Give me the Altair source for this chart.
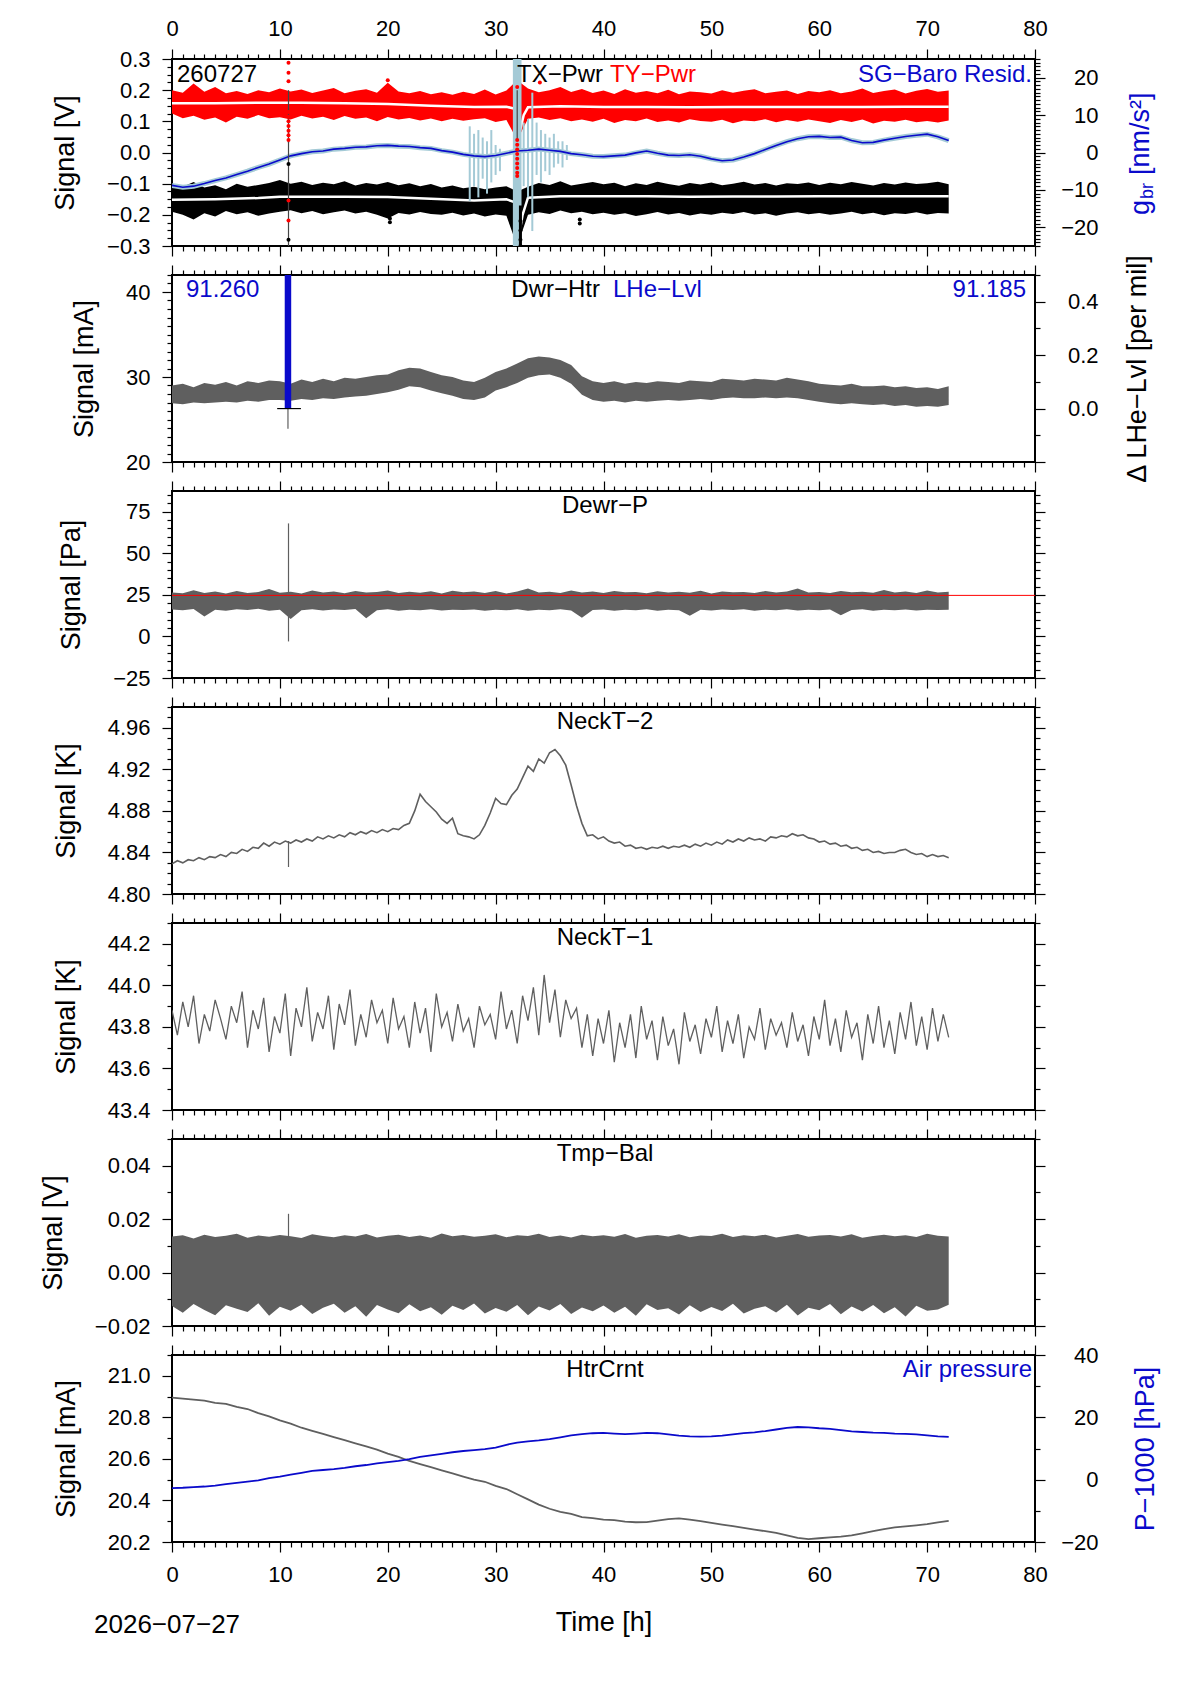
import numpy as np
import pandas as pd
import altair as alt

# sample grids in hours
T1 = np.arange(0, 73, 1.0)
T05 = np.arange(0, 72.5, 0.5)

# ---- panel 1: tilt powers (V) and SG-baro residual (nm/s^2)
ty_hi = [0.200, 0.192, 0.221, 0.195, 0.210, 0.190, 0.197, 0.188, 0.200, 0.193,
         0.205, 0.196, 0.202, 0.191, 0.199, 0.207, 0.190, 0.198, 0.203, 0.192,
         0.224, 0.196, 0.190, 0.197, 0.187, 0.193, 0.185, 0.195, 0.188, 0.202,
         0.186, 0.199, 0.232, 0.205, 0.193, 0.200, 0.210, 0.194, 0.204, 0.191,
         0.199, 0.188, 0.203, 0.192, 0.197, 0.190, 0.201, 0.187, 0.196, 0.193,
         0.189, 0.200, 0.192, 0.198, 0.203, 0.190, 0.195, 0.199, 0.188, 0.197,
         0.193, 0.200, 0.190, 0.196, 0.205, 0.191, 0.197, 0.202, 0.189, 0.198,
         0.204, 0.195, 0.199]
ty_lo = [0.125, 0.110, 0.118, 0.105, 0.112, 0.096, 0.115, 0.108, 0.120, 0.110,
         0.113, 0.106, 0.118, 0.109, 0.115, 0.104, 0.117, 0.108, 0.112, 0.100,
         0.114, 0.106, 0.111, 0.103, 0.109, 0.100, 0.108, 0.102, 0.107, 0.110,
         0.098, 0.104, 0.040, 0.108, 0.112, 0.104, 0.110, 0.100, 0.106, 0.099,
         0.108, 0.095, 0.104, 0.100, 0.109, 0.098, 0.103, 0.096, 0.107, 0.101,
         0.099, 0.105, 0.094, 0.103, 0.100, 0.107, 0.097, 0.104, 0.099, 0.106,
         0.100, 0.095, 0.104, 0.098, 0.106, 0.093, 0.102, 0.099, 0.105, 0.097,
         0.101, 0.096, 0.103]
tx_hi = [-0.115, -0.110, -0.095, -0.112, -0.105, -0.118, -0.100, -0.110, -0.104, -0.098,
         -0.088, -0.100, -0.094, -0.104, -0.097, -0.102, -0.092, -0.106, -0.098, -0.103,
         -0.095, -0.105, -0.099, -0.108, -0.101, -0.112, -0.106, -0.115, -0.110, -0.118,
         -0.112, -0.108, -0.125, -0.110, -0.098, -0.104, -0.092, -0.106, -0.100, -0.095,
         -0.102, -0.097, -0.108, -0.099, -0.104, -0.094, -0.101, -0.107, -0.098, -0.103,
         -0.096, -0.105, -0.100, -0.094, -0.103, -0.098, -0.106, -0.099, -0.101, -0.096,
         -0.104, -0.097, -0.102, -0.095, -0.100, -0.106, -0.098, -0.103, -0.096, -0.101,
         -0.099, -0.094, -0.102]
tx_lo = [-0.190, -0.200, -0.215, -0.195, -0.205, -0.188, -0.198, -0.192, -0.203, -0.196,
         -0.190, -0.185, -0.195, -0.188, -0.198, -0.192, -0.186, -0.196, -0.190, -0.200,
         -0.212, -0.194, -0.199, -0.191, -0.197, -0.200, -0.193, -0.202, -0.196, -0.205,
         -0.199, -0.203, -0.300, -0.200, -0.192, -0.197, -0.186, -0.195, -0.190, -0.198,
         -0.193, -0.200, -0.195, -0.204, -0.198, -0.191, -0.199, -0.194, -0.202, -0.196,
         -0.200, -0.193, -0.197, -0.191, -0.199, -0.195, -0.203, -0.196, -0.192, -0.198,
         -0.194, -0.200, -0.196, -0.190, -0.198, -0.193, -0.201, -0.195, -0.197, -0.192,
         -0.199, -0.194, -0.196]
ty_mid_t = [0, 4, 8, 12, 16, 20, 24, 28, 31, 31.8, 32.2, 32.6, 33, 36, 40, 44, 48, 52, 56, 60, 64, 68, 72]
ty_mid_v = [0.158, 0.158, 0.160, 0.160, 0.158, 0.156, 0.150, 0.146, 0.147, 0.140, 0.060, 0.120,
            0.145, 0.148, 0.146, 0.146, 0.145, 0.146, 0.146, 0.146, 0.146, 0.147, 0.147]
tx_mid_t = [0, 4, 8, 10, 12, 16, 20, 24, 28, 31, 31.8, 32.2, 32.5, 33, 36, 40, 44, 48, 52, 56, 60, 64, 68, 72]
tx_mid_v = [-0.152, -0.150, -0.146, -0.142, -0.142, -0.142, -0.143, -0.148, -0.154, -0.150, -0.160,
            -0.260, -0.200, -0.145, -0.140, -0.140, -0.140, -0.142, -0.141, -0.141, -0.140, -0.140,
            -0.140, -0.140]
red_dot_t = [10.8] * 12 + [32.0] * 10 + [20.0, 34.1]
red_dot_v = [0.288, 0.256, 0.229, 0.13, 0.115, 0.10, 0.085, 0.07, 0.055, 0.04, -0.154, -0.218,
             0.21, 0.04, 0.025, 0.01, -0.005, -0.02, -0.035, -0.05, -0.065, -0.075,
             0.232, 0.225]
blk_dot_t = [10.8, 10.8, 32.3, 32.3, 32.3, 32.3, 37.8, 37.8, 20.2, 20.2]
blk_dot_v = [-0.037, -0.28, -0.22, -0.25, -0.28, -0.30, -0.215, -0.228, -0.212, -0.224]
sg = [-8.8, -9.3, -9.0, -8.3, -7.5, -6.8, -5.9, -5.0, -4.0, -3.1,
      -2.0, -0.9, -0.3, 0.2, 0.4, 0.9, 1.1, 1.4, 1.5, 1.8,
      1.9, 1.7, 1.6, 1.3, 1.1, 0.5, 0.1, -0.5, -0.9, -1.1,
      -0.8, -0.2, 0.4, 0.6, 0.9, 0.6, 0.3, -0.3, -0.6, -1.0,
      -1.1, -0.9, -0.7, -0.1, 0.4, -0.2, -0.7, -0.8, -0.6, -1.0,
      -1.7, -2.2, -2.0, -1.2, -0.3, 0.8, 1.9, 2.9, 3.7, 4.2,
      4.3, 4.0, 4.1, 3.2, 2.6, 2.7, 3.3, 3.8, 4.3, 4.6,
      4.9, 4.2, 3.2]
sg_spk_t = [27.6, 28.0, 28.4, 28.8, 29.2, 29.6, 30.0, 30.4,
            32.6, 33.0, 33.4, 33.8, 34.2, 34.6, 35.0, 35.4, 35.8, 36.2, 36.6]
sg_spk_lo = [-13, -9, -12, -7, -11, -8, -6, -5, -9, -12, -21, -6, -8, -5, -6, -4, -3, -4, -2]
sg_spk_hi = [7, 5, 6, 4, 3, 6, 2, 1, 8, 9, 16, 8, 6, 5, 4, 5, 3, 3, 2]

# ---- panel 2: dewar heater (mA), LHe level (per mil)
dwr_hi = [29.0, 29.2, 28.8, 29.3, 29.1, 29.4, 29.0, 29.5, 29.3, 29.6,
          29.5, 29.2, 29.7, 29.4, 29.8, 29.5, 29.9, 29.8, 30.0, 30.2,
          30.3, 30.8, 31.1, 31.0, 30.6, 30.2, 30.0, 29.6, 29.4, 29.9,
          30.6, 31.0, 31.6, 32.2, 32.4, 32.3, 32.0, 31.4, 30.1, 29.5,
          29.3, 29.5, 29.2, 29.4, 29.3, 29.5, 29.4, 29.3, 29.6, 29.5,
          29.4, 29.8, 29.7, 29.6, 29.8, 29.7, 29.6, 29.9, 29.7, 29.5,
          29.2, 29.1, 29.0, 29.2, 28.9, 28.9, 29.0, 28.8, 28.9, 28.7,
          28.8, 28.6, 28.9]
dwr_lo = [26.9, 26.8, 27.0, 26.9, 27.0, 27.1, 27.0, 27.2, 27.1, 27.3,
          27.3, 27.2, 27.4, 27.3, 27.5, 27.4, 27.6, 27.7, 27.8, 28.0,
          28.2, 28.5, 28.9, 28.8, 28.4, 28.1, 27.8, 27.4, 27.3, 27.6,
          28.4, 28.8, 29.3, 29.9, 30.2, 30.3, 29.9, 29.2, 27.9, 27.3,
          27.1, 27.2, 27.0, 27.2, 27.1, 27.2, 27.3, 27.2, 27.3, 27.4,
          27.3, 27.5, 27.6, 27.5, 27.5, 27.6, 27.5, 27.6, 27.5, 27.3,
          27.1, 26.9, 26.8, 26.9, 26.8, 26.7, 26.8, 26.6, 26.7, 26.5,
          26.6, 26.5, 26.7]
lhe_t, lhe_t2, lhe_lo, lhe_hi = [10.45], [11.05], [0.0], [0.5]
cap_t, cap_t2, cap_v = [9.75], [11.95], [0.0]

# ---- panel 3: dewar pressure (Pa)
dp_hi = [26.5, 26.0, 27.8, 26.2, 27.0, 25.8, 27.4, 26.1, 26.7, 28.6,
         26.3, 26.9, 25.9, 27.6, 26.4, 27.1, 26.0, 27.3, 26.5, 26.8,
         27.7, 26.1, 26.9, 26.3, 27.2, 25.9, 27.5, 26.6, 27.0, 26.2,
         27.3, 25.8, 27.1, 28.9, 26.4, 26.9, 26.2, 27.6, 26.5, 27.0,
         26.1, 27.4, 26.6, 26.8, 26.0, 27.2, 26.5, 26.9, 26.3, 27.5,
         25.9, 27.1, 26.6, 26.7, 26.2, 27.3, 26.4, 27.0, 28.8, 26.5,
         26.8, 26.1, 27.4, 26.6, 26.9, 26.3, 27.9, 26.5, 27.1, 26.2,
         27.6, 26.4, 26.9]
dp_lo = [16.2, 15.8, 16.5, 12.0, 16.0, 15.5, 16.3, 15.9, 16.6, 15.4,
         16.1, 10.5, 15.8, 16.4, 15.6, 16.2, 15.9, 16.5, 11.0, 15.7,
         16.3, 15.5, 16.0, 15.8, 16.4, 15.6, 16.1, 15.9, 16.2, 15.4,
         16.0, 15.7, 16.3, 15.5, 16.1, 15.8, 16.4, 15.6, 11.2, 15.9,
         16.2, 15.5, 16.0, 15.7, 16.3, 15.4, 16.1, 15.8, 12.5, 16.0,
         15.6, 16.2, 15.9, 16.4, 15.5, 16.1, 15.8, 16.3, 15.6, 16.0,
         15.7, 16.2, 12.8, 15.9, 16.3, 15.5, 16.1, 15.8, 16.2, 15.6,
         16.0, 15.9, 16.1]
dp_ref = [24.7]

# ---- panel 4: neck temperature 2 (K), half-hour samples
neck2 = [4.829, 4.832, 4.830, 4.833, 4.832, 4.835, 4.833, 4.836, 4.835, 4.838,
         4.836, 4.840, 4.839, 4.843, 4.841, 4.845, 4.844, 4.849, 4.846, 4.850,
         4.848, 4.851, 4.849, 4.852, 4.850, 4.853, 4.851, 4.855, 4.853, 4.856,
         4.854, 4.857, 4.855, 4.859, 4.857, 4.860, 4.858, 4.861, 4.859, 4.862,
         4.860, 4.863, 4.862, 4.866, 4.868, 4.880, 4.896, 4.889, 4.884, 4.879,
         4.872, 4.868, 4.873, 4.858, 4.856, 4.855, 4.853, 4.857, 4.866, 4.878,
         4.892, 4.887, 4.886, 4.895, 4.901, 4.912, 4.923, 4.918, 4.930, 4.926,
         4.936, 4.939, 4.933, 4.924, 4.905, 4.885, 4.868, 4.856, 4.857, 4.853,
         4.855, 4.851, 4.849, 4.850, 4.846, 4.847, 4.844, 4.845, 4.843, 4.845,
         4.844, 4.846, 4.844, 4.846, 4.845, 4.847, 4.845, 4.848, 4.846, 4.849,
         4.847, 4.850, 4.848, 4.852, 4.850, 4.853, 4.851, 4.854, 4.852, 4.853,
         4.851, 4.855, 4.854, 4.856, 4.855, 4.858, 4.856, 4.857, 4.854, 4.853,
         4.850, 4.851, 4.848, 4.849, 4.846, 4.847, 4.844, 4.845, 4.842, 4.843,
         4.840, 4.841, 4.839, 4.840, 4.840, 4.842, 4.843, 4.840, 4.838, 4.839,
         4.836, 4.838, 4.836, 4.837, 4.835]

# ---- panel 5: neck temperature 1 (K), half-hour samples
neck1 = [43.88, 43.76, 43.92, 43.80, 43.95, 43.72, 43.86, 43.78, 43.93, 43.84,
         43.74, 43.90, 43.82, 43.97, 43.70, 43.88, 43.79, 43.94, 43.68, 43.85,
         43.77, 43.96, 43.66, 43.89, 43.80, 43.99, 43.73, 43.87, 43.79, 43.95,
         43.69, 43.91, 43.81, 43.98, 43.71, 43.86, 43.75, 43.93, 43.82, 43.88,
         43.72, 43.94, 43.79, 43.85, 43.70, 43.92, 43.77, 43.89, 43.68, 43.96,
         43.80, 43.87, 43.73, 43.91, 43.78, 43.84, 43.70, 43.90, 43.81, 43.86,
         43.74, 43.97, 43.79, 43.88, 43.72, 43.95, 43.83, 43.99, 43.76, 44.05,
         43.82, 43.98, 43.75, 43.93, 43.84, 43.89, 43.70, 43.86, 43.66, 43.84,
         43.72, 43.88, 43.63, 43.82, 43.70, 43.86, 43.65, 43.90, 43.74, 43.83,
         43.64, 43.85, 43.71, 43.79, 43.62, 43.87, 43.73, 43.81, 43.67, 43.84,
         43.75, 43.90, 43.68, 43.83, 43.72, 43.86, 43.65, 43.80, 43.74, 43.89,
         43.69, 43.84, 43.76, 43.82, 43.70, 43.87, 43.73, 43.81, 43.66, 43.85,
         43.74, 43.93, 43.71, 43.84, 43.68, 43.88, 43.75, 43.82, 43.64, 43.86,
         43.72, 43.90, 43.70, 43.83, 43.67, 43.87, 43.74, 43.92, 43.71, 43.85,
         43.69, 43.89, 43.73, 43.86, 43.75]

# ---- panel 6: balance temperature (V)
tb_hi = [0.0135, 0.0140, 0.0128, 0.0142, 0.0133, 0.0138, 0.0145, 0.0130, 0.0139, 0.0134,
         0.0141, 0.0136, 0.0129, 0.0143, 0.0137, 0.0132, 0.0140, 0.0135, 0.0144, 0.0131,
         0.0138, 0.0142, 0.0133, 0.0139, 0.0130, 0.0146, 0.0136, 0.0141, 0.0134, 0.0138,
         0.0143, 0.0132, 0.0140, 0.0137, 0.0145, 0.0133, 0.0139, 0.0131, 0.0142, 0.0136,
         0.0140, 0.0134, 0.0144, 0.0130, 0.0138, 0.0141, 0.0135, 0.0143, 0.0132, 0.0139,
         0.0137, 0.0145, 0.0133, 0.0140, 0.0136, 0.0142, 0.0131, 0.0138, 0.0144, 0.0134,
         0.0139, 0.0141, 0.0135, 0.0143, 0.0130, 0.0137, 0.0142, 0.0136, 0.0140, 0.0133,
         0.0145, 0.0138, 0.0135]
tb_lo = [-0.0125, -0.0150, -0.0118, -0.0140, -0.0160, -0.0122, -0.0135, -0.0148, -0.0115, -0.0162,
         -0.0128, -0.0143, -0.0120, -0.0155, -0.0132, -0.0117, -0.0150, -0.0126, -0.0165, -0.0121,
         -0.0138, -0.0152, -0.0119, -0.0145, -0.0130, -0.0158, -0.0124, -0.0140, -0.0116, -0.0153,
         -0.0133, -0.0147, -0.0121, -0.0160, -0.0127, -0.0142, -0.0118, -0.0155, -0.0131, -0.0145,
         -0.0123, -0.0150, -0.0128, -0.0162, -0.0119, -0.0140, -0.0134, -0.0157, -0.0122, -0.0148,
         -0.0129, -0.0144, -0.0117, -0.0153, -0.0135, -0.0126, -0.0149, -0.0120, -0.0161, -0.0132,
         -0.0141, -0.0118, -0.0156, -0.0127, -0.0146, -0.0121, -0.0152, -0.0130, -0.0164, -0.0124,
         -0.0143, -0.0138, -0.0120]

# ---- panel 7: heater current (mA) and air pressure (hPa - 1000)
htr = [20.895, 20.890, 20.885, 20.880, 20.870, 20.865, 20.850, 20.840, 20.820, 20.805,
       20.785, 20.770, 20.750, 20.735, 20.720, 20.705, 20.690, 20.675, 20.660, 20.645,
       20.625, 20.610, 20.590, 20.575, 20.560, 20.545, 20.530, 20.515, 20.500, 20.490,
       20.470, 20.455, 20.430, 20.405, 20.380, 20.360, 20.345, 20.335, 20.320, 20.315,
       20.308, 20.305, 20.298, 20.295, 20.296, 20.303, 20.310, 20.314, 20.308, 20.300,
       20.292, 20.284, 20.276, 20.268, 20.260, 20.252, 20.244, 20.232, 20.220, 20.214,
       20.218, 20.222, 20.226, 20.232, 20.242, 20.252, 20.262, 20.270, 20.275, 20.280,
       20.286, 20.294, 20.302]
air = [-2.7, -2.6, -2.4, -2.2, -1.9, -1.4, -1.0, -0.6, -0.2, 0.5,
       1.0, 1.6, 2.2, 2.8, 3.1, 3.4, 3.8, 4.3, 4.7, 5.2,
       5.6, 6.0, 6.6, 7.3, 7.8, 8.3, 8.8, 9.2, 9.5, 9.8,
       10.3, 11.2, 11.9, 12.3, 12.6, 13.0, 13.6, 14.2, 14.6, 14.9,
       15.0, 14.8, 14.6, 14.8, 15.0, 14.9, 14.5, 14.1, 13.9, 13.8,
       13.9, 14.1, 14.5, 14.9, 15.2, 15.6, 16.1, 16.6, 16.9, 16.8,
       16.5, 16.3, 15.9, 15.5, 15.3, 15.1, 15.0, 14.8, 14.7, 14.5,
       14.2, 13.9, 13.7]

# glitch at ~10.8 h seen in several channels: (time, low, high)
dwr_spk = ([10.75], [23.9], [26.25])
dp_spk = ([10.8], [-3.0], [68.0])
n2_spk = ([10.8], [4.826], [4.851])
tb_spk = ([10.8], [-0.012], [0.022])

W, H = 863, 187
FONT = "Liberation Sans"
BLUE = "#0a0acb"
LBLUE = "#a4cad6"
GRAY = "#5f5f5f"
ONE = pd.DataFrame({"a": [0]})
XS = alt.Scale(domain=[0, 80], nice=False, zero=False)


def ticks(lo, hi, step):
    n = int(round((hi - lo) / step))
    return [round(lo + i * step, 4) for i in range(n + 1)]


def is_major(step):
    return f"abs(datum.value / {step} - round(datum.value / {step})) < 1e-6"


def tsize(step):
    return {"condition": {"test": is_major(step), "value": 10}, "value": 5}


def x_axis(orient, labels=False, title=None):
    return alt.Axis(orient=orient, values=list(range(0, 81)), domain=False, grid=False,
                    tickSize=tsize(10), tickColor="black", tickWidth=1.2,
                    labels=labels, labelExpr=f"{is_major(10)} ? datum.label : ''", format="d",
                    labelFont=FONT, labelFontSize=22, labelColor="black",
                    labelPadding=9 if orient == "top" else 12,
                    labelFlush=False, labelOverlap=False,
                    title=title, titleFont=FONT, titleFontSize=27, titleFontWeight="normal",
                    titleColor="black", titlePadding=24)


def y_axis(orient, vals, major, fmt=".1f", labels=True, title=None, extra=None):
    test = is_major(major) if extra is None else f"({is_major(major)}) && ({extra})"
    kw = dict(orient=orient, values=vals, domain=False, grid=False,
              tickSize=tsize(major), tickColor="black", tickWidth=1.2,
              labels=labels, labelExpr=f"({test}) ? datum.label : ''", format=fmt,
              labelFont=FONT, labelFontSize=22, labelColor="black",
              labelPadding=12, labelOverlap=False, labelFlush=False,
              title=title, titleFont=FONT, titleFontSize=27, titleFontWeight="normal",
              titleColor="black", titlePadding=27)
    if orient == "right":
        kw["labelAlign"] = "right"
        kw["labelPadding"] = 53
    return alt.Axis(**kw)


def Y(field, dom):
    return alt.Y(f"{field}:Q", scale=alt.Scale(domain=dom, nice=False, zero=False), axis=None)


def X(field="t"):
    return alt.X(f"{field}:Q", scale=XS, axis=None)


def axis_layer(dom, xa, ya):
    d = pd.DataFrame({"t": [0, 80], "v": dom})
    return alt.Chart(d).mark_point(opacity=0).encode(
        x=alt.X("t:Q", scale=XS, axis=xa),
        y=alt.Y("v:Q", scale=alt.Scale(domain=dom, nice=False, zero=False), axis=ya))


def band(t, hi, lo, dom, color):
    d = pd.DataFrame({"t": t, "hi": hi, "lo": lo})
    return alt.Chart(d).mark_area(color=color, clip=True).encode(x=X(), y=Y("hi", dom), y2="lo:Q")


def line(t, v, dom, color, width=1.3):
    d = pd.DataFrame({"t": t, "v": v})
    return alt.Chart(d).mark_line(color=color, strokeWidth=width, clip=True).encode(x=X(), y=Y("v", dom))


def rules(t, lo, hi, dom, color, width=1.2):
    d = pd.DataFrame({"t": t, "lo": lo, "hi": hi})
    return alt.Chart(d).mark_rule(color=color, strokeWidth=width, clip=True).encode(
        x=X(), y=Y("lo", dom), y2="hi:Q")


def dots(t, v, dom, color):
    d = pd.DataFrame({"t": t, "v": v})
    return alt.Chart(d).mark_circle(color=color, size=16, opacity=1, clip=True).encode(x=X(), y=Y("v", dom))


def text(txt, x, y, color="black", align="left", size=24, angle=0):
    return alt.Chart(ONE).mark_text(text=txt, align=align, baseline="middle", font=FONT,
                                    fontSize=size, color=color, angle=angle).encode(
        x=alt.value(x), y=alt.value(y))


def panel(layers):
    return alt.layer(*layers).resolve_scale(x="independent", y="independent").resolve_axis(
        x="independent", y="independent").properties(width=W, height=H)


# panel 1
V1, G1 = [-0.3, 0.3], [-25, 25]
sg_d = pd.DataFrame({"t": [31.6], "t2": [32.4], "lo": [-25], "hi": [25]})
p1 = panel([
    axis_layer(V1, x_axis("bottom"), y_axis("left", ticks(-0.3, 0.3, 0.025), 0.1, ".1f", title="Signal [V]")),
    band(T1, ty_hi, ty_lo, V1, "#ff0000"),
    band(T1, tx_hi, tx_lo, V1, "black"),
    line(ty_mid_t, ty_mid_v, V1, "white", 2.5),
    line(tx_mid_t, tx_mid_v, V1, "white", 2.5),
    rules(sg_spk_t, sg_spk_lo, sg_spk_hi, G1, LBLUE, 2),
    alt.Chart(sg_d).mark_rect(color=LBLUE, clip=True).encode(x=X(), x2="t2:Q", y=Y("lo", G1), y2="hi:Q"),
    line(T1, sg, G1, LBLUE, 5),
    line(T1, sg, G1, BLUE, 1.6),
    rules([10.8, 10.8, 32.0], [0.03, 0.04, 0.04], [0.2, -0.3, 0.2], V1, "#444444", 1.2),
    rules([32.3], [-0.3], [-0.17], V1, "black", 3),
    dots(red_dot_t, red_dot_v, V1, "#ff0000"),
    dots(blk_dot_t, blk_dot_v, V1, "black"),
    text("260727", 5, 16),
    text("TX−Pwr", 431, 16, align="right"),
    text("TY−Pwr", 438, 16, color="#ff0000"),
    text("SG−Baro Resid.", 860, 16, color=BLUE, align="right"),
    text("g", 969, 156, color=BLUE, size=27, angle=270),
    text("br", 976, 140, color=BLUE, size=18, angle=270),
    text("[nm/s²]", 969, 116, color=BLUE, size=27, angle=270),
    axis_layer(G1, x_axis("top", labels=True), y_axis("right", ticks(-25, 25, 1), 10, "d")),
])

# panel 2
M2, L2 = [20, 42], [-0.2, 0.5]
lhe_d = pd.DataFrame({"t": lhe_t, "t2": lhe_t2, "lo": lhe_lo, "hi": lhe_hi})
cap_d = pd.DataFrame({"t": cap_t, "t2": cap_t2, "v": cap_v})
p2 = panel([
    axis_layer(M2, x_axis("bottom"), y_axis("left", ticks(20, 42, 1), 10, "d", title="Signal [mA]")),
    band(T1, dwr_hi, dwr_lo, M2, GRAY),
    rules(*dwr_spk, M2, GRAY, 1.2),
    alt.Chart(lhe_d).mark_rect(color=BLUE, clip=True).encode(x=X(), x2="t2:Q", y=Y("lo", L2), y2="hi:Q"),
    alt.Chart(cap_d).mark_rule(color="black", strokeWidth=1.2, clip=True).encode(x=X(), x2="t2:Q", y=Y("v", L2)),
    text("91.260", 14, 15, color=BLUE),
    text("Dwr−Htr", 428, 15, align="right"),
    text("LHe−Lvl", 441, 15, color=BLUE),
    text("91.185", 854, 15, color=BLUE, align="right"),
    text("Δ LHe−Lvl [per mil]", 966, 94, size=27, align="center", angle=270),
    axis_layer(L2, x_axis("top"), y_axis("right", ticks(-0.2, 0.5, 0.1), 0.2, ".1f", extra="datum.value > -0.05")),
])

# panel 3
P3 = [-25, 87.5]
ref_d = pd.DataFrame({"t": [0], "t2": [80], "v": dp_ref})
p3 = panel([
    axis_layer(P3, x_axis("bottom"), y_axis("left", ticks(-25, 85, 5), 25, "d", title="Signal [Pa]")),
    band(T1, dp_hi, dp_lo, P3, GRAY),
    rules(*dp_spk, P3, GRAY, 1.2),
    alt.Chart(ref_d).mark_rule(color="#ff0000", strokeWidth=1, clip=True).encode(x=X(), x2="t2:Q", y=Y("v", P3)),
    text("Dewr−P", 433, 15, align="center"),
    axis_layer(P3, x_axis("top"), y_axis("right", ticks(-25, 85, 5), 25, "d", labels=False)),
])

# panel 4
K4 = [4.80, 4.98]
p4 = panel([
    axis_layer(K4, x_axis("bottom"), y_axis("left", ticks(4.80, 4.98, 0.01), 0.04, ".2f", title="Signal [K]")),
    line(T05, neck2, K4, GRAY, 1.6),
    rules(*n2_spk, K4, GRAY, 1.2),
    text("NeckT−2", 433, 15, align="center"),
    axis_layer(K4, x_axis("top"), y_axis("right", ticks(4.80, 4.98, 0.01), 0.04, ".2f", labels=False)),
])

# panel 5
K5 = [43.4, 44.3]
p5 = panel([
    axis_layer(K5, x_axis("bottom"), y_axis("left", ticks(43.4, 44.3, 0.1), 0.2, ".1f", title="Signal [K]")),
    line(T05, neck1, K5, GRAY, 1.3),
    text("NeckT−1", 433, 15, align="center"),
    axis_layer(K5, x_axis("top"), y_axis("right", ticks(43.4, 44.3, 0.1), 0.2, ".1f", labels=False)),
])

# panel 6
V6 = [-0.02, 0.05]
p6 = panel([
    axis_layer(V6, x_axis("bottom"), y_axis("left", ticks(-0.02, 0.05, 0.01), 0.02, ".2f", title="Signal [V]")),
    band(T1, tb_hi, tb_lo, V6, GRAY),
    rules(*tb_spk, V6, GRAY, 1.2),
    text("Tmp−Bal", 433, 15, align="center"),
    axis_layer(V6, x_axis("top"), y_axis("right", ticks(-0.02, 0.05, 0.01), 0.02, ".2f", labels=False)),
])

# panel 7
M7, P7 = [20.2, 21.1], [-20, 40]
p7 = panel([
    axis_layer(M7, x_axis("bottom", labels=True, title="Time [h]"),
               y_axis("left", ticks(20.2, 21.1, 0.1), 0.2, ".1f", title="Signal [mA]")),
    line(T1, htr, M7, GRAY, 1.8),
    line(T1, air, P7, BLUE, 1.8),
    text("HtrCrnt", 433, 15, align="center"),
    text("Air pressure", 860, 15, color=BLUE, align="right"),
    text("P−1000 [hPa]", 974, 94, color=BLUE, size=27, align="center", angle=270),
    text("2026−07−27", -78, 270, size=26),
    axis_layer(P7, x_axis("top"), y_axis("right", ticks(-20, 40, 10), 20, "d")),
])

chart = alt.vconcat(p1, p2, p3, p4, p5, p6, p7, spacing=29, bounds="flush").properties(
    padding={"left": 30, "top": 8, "right": 10, "bottom": 10}
).configure_view(stroke="black", strokeWidth=2)

chart.save("out.html", embed_options={"renderer": "svg", "actions": False})
